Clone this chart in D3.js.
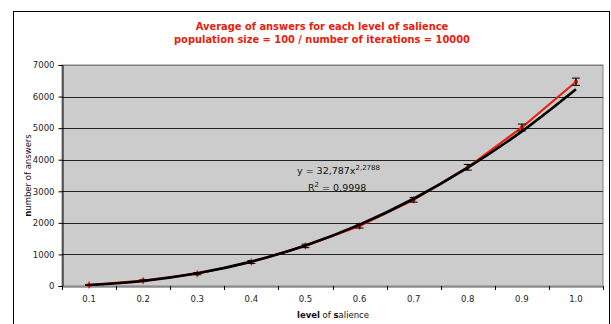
<!DOCTYPE html>
<html><head><meta charset="utf-8">
<script src="https://cdn.jsdelivr.net/npm/d3@7"></script>
<style>body{margin:0;background:#fff}svg{display:block}</style>
</head><body>
<svg id="c" width="611" height="324"></svg>
<script>
const categories = ["0.1","0.2","0.3","0.4","0.5","0.6","0.7","0.8","0.9","1.0"];
const answers = [30, 170, 390, 760, 1270, 1900, 2730, 3760, 5020, 6470];
const errors = [15, 25, 35, 45, 55, 65, 75, 90, 110, 115];
const trend = [33, 159, 401, 772, 1284, 1944, 2764, 3747, 4899, 6234];
const yTicks = [0,1000,2000,3000,4000,5000,6000,7000];

const svg = d3.select("#c");
const font = "DejaVu Sans, Verdana, sans-serif";
const L=62, R=603, T=65, B=286;

svg.append("rect").attr("x",13.5).attr("y",11.5).attr("width",596).attr("height",330)
  .attr("fill","#fff").attr("stroke","#000").attr("stroke-width",1);

const x = d3.scaleBand().domain(categories).range([L,R]);
const y = d3.scaleLinear().domain([0,7000]).range([B,T]);

svg.append("rect").attr("x",L).attr("y",T).attr("width",R-L).attr("height",B-T)
  .attr("fill","#cccccc").attr("stroke","#808080").attr("stroke-width",1);

// gridlines
svg.append("g").selectAll("line").data(yTicks.filter(d=>d>0)).join("line")
  .attr("x1",L).attr("x2",R).attr("y1",d=>Math.round(y(d))+0.5).attr("y2",d=>Math.round(y(d))+0.5)
  .attr("stroke",(d,i)=>d===7000?"#808080":"#222").attr("stroke-width",1);

// y axis
const ya = svg.append("g").attr("transform",`translate(${L+0.5},0)`)
  .call(d3.axisLeft(y).tickValues(yTicks).tickSize(4).tickPadding(4).tickFormat(d3.format("d")));
ya.select(".domain").attr("stroke","#000");
ya.selectAll(".tick line").attr("stroke","#000");
ya.selectAll("text").attr("font-family",font).attr("font-size",8.5).attr("fill","#222");

// x axis
const xa = svg.append("g").attr("transform",`translate(0,${B+0.5})`)
  .call(d3.axisBottom(x).tickSize(0).tickPadding(9));
xa.select(".domain").attr("stroke","#555");
xa.selectAll("text").attr("font-family",font).attr("font-size",8.5).attr("fill","#222");
svg.append("g").selectAll("line").data(categories).join("line")
  .attr("x1",d=>Math.round(x(d))+0.5).attr("x2",d=>Math.round(x(d))+0.5)
  .attr("y1",B).attr("y2",B+4).attr("stroke","#000");
svg.append("line").attr("x1",R+0.5).attr("x2",R+0.5).attr("y1",B).attr("y2",B+4).attr("stroke","#000");

const cx = d => x(d)+x.bandwidth()/2;

// data line (red)
svg.append("path").datum(answers)
  .attr("d", d3.line().x((d,i)=>cx(categories[i])).y(d=>y(d)))
  .attr("fill","none").attr("stroke","#e8200c").attr("stroke-width",2.2);

// markers
svg.append("g").selectAll("path").data(answers).join("path")
  .attr("d", d3.symbol().type(d3.symbolDiamond).size(18))
  .attr("transform",(d,i)=>`translate(${cx(categories[i])},${y(d)})`)
  .attr("fill","#e8200c");

// trend line (black)
svg.append("path").datum(trend)
  .attr("d", d3.line().x((d,i)=>cx(categories[i])).y(d=>y(d)).curve(d3.curveCatmullRom))
  .attr("fill","none").attr("stroke","#000").attr("stroke-width",2.6);

// error bars
const eb = svg.append("g").attr("stroke","#000").attr("stroke-width",1);
answers.forEach((v,i)=>{
  const px = cx(categories[i]);
  const e = errors[i];
  eb.append("line").attr("x1",px).attr("x2",px).attr("y1",y(v+e)).attr("y2",y(v-e));
  eb.append("line").attr("x1",px-4).attr("x2",px+4).attr("y1",y(v+e)).attr("y2",y(v+e));
  eb.append("line").attr("x1",px-4).attr("x2",px+4).attr("y1",y(v-e)).attr("y2",y(v-e));
});

// title
const t = svg.append("text").attr("text-anchor","middle").attr("font-family",font)
  .attr("font-weight","bold").attr("font-size",9.9).attr("fill","#e8200c");
t.append("tspan").attr("x",322).attr("y",30).text("Average of answers for each level of salience");
t.append("tspan").attr("x",322).attr("y",43).text("population size = 100 / number of iterations = 10000");

// axis titles
const xt = svg.append("text").attr("x",333).attr("y",318).attr("text-anchor","middle")
  .attr("font-family",font).attr("font-size",8.5).attr("fill","#111");
xt.append("tspan").attr("font-weight","bold").text("level");
xt.append("tspan").text(" of ");
xt.append("tspan").attr("font-weight","bold").text("s");
xt.append("tspan").text("alience");

const ytl = svg.append("text").attr("transform",`translate(31,${(T+B)/2}) rotate(-90)`)
  .attr("text-anchor","middle").attr("font-family",font).attr("font-size",8.5).attr("fill","#111");
ytl.append("tspan").attr("font-weight","bold").text("n");
ytl.append("tspan").text("umber of answers");

// equation
const eq = svg.append("text").attr("font-family",font).attr("font-size",9.5).attr("fill","#111");
eq.append("tspan").attr("x",297).attr("y",174).text("y = 32,787x");
eq.append("tspan").attr("dy",-4).attr("font-size",7).text("2,2788");
const r2 = svg.append("text").attr("font-family",font).attr("font-size",9.5).attr("fill","#111");
r2.append("tspan").attr("x",308).attr("y",191).text("R");
r2.append("tspan").attr("dy",-4).attr("font-size",7).text("2");
r2.append("tspan").attr("dy",4).text(" = 0,9998");
</script>
</body></html>
